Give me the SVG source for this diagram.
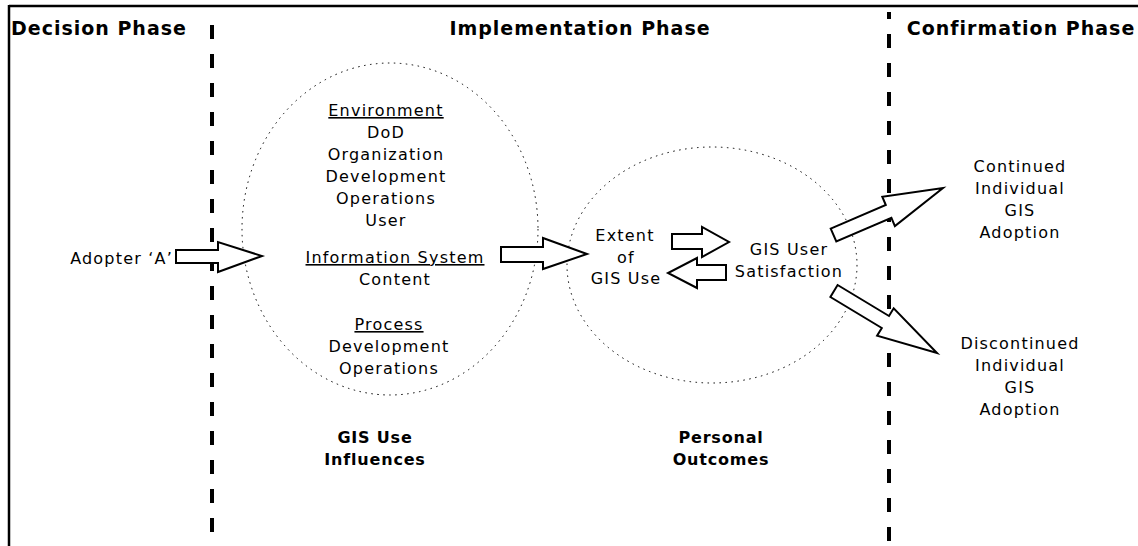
<svg xmlns="http://www.w3.org/2000/svg" width="1138" height="546" viewBox="0 0 1138 546">
<style>
.hdr{font-family:"DejaVu Sans",sans-serif;font-weight:bold;font-size:19px;letter-spacing:1px;fill:#000}
.lbl{font-family:"DejaVu Sans",sans-serif;font-weight:bold;font-size:16px;letter-spacing:0.8px;fill:#000;text-anchor:middle}
.t{font-family:"DejaVu Sans",sans-serif;font-size:16px;letter-spacing:1.2px;fill:#000;text-anchor:middle}
.t.end{text-anchor:end}
.u{text-decoration:underline}
.frame{stroke:#000;stroke-width:2.5;fill:none}
.div{stroke:#000;stroke-width:4;stroke-dasharray:14 15;fill:none}
.ell{fill:none;stroke:#000;stroke-width:1;stroke-dasharray:1.5 4.5}
.arr{fill:#fff;stroke:#000;stroke-width:2;stroke-linejoin:miter}
</style>
<rect width="1138" height="546" fill="#fff"/>
<g id="frame">
<line class="frame" x1="9" y1="6" x2="1138" y2="6"/>
<line class="frame" x1="9" y1="5" x2="9" y2="546"/>
</g>
<g id="dividers">
<line class="div" x1="212" y1="25" x2="212" y2="546"/>
<line class="div" x1="889" y1="12" x2="889" y2="546" stroke-dashoffset="7"/>
</g>
<g id="headers">
<text class="hdr" x="11" y="35">Decision Phase</text>
<text class="hdr" x="580" y="35" text-anchor="middle">Implementation Phase</text>
<text class="hdr" x="1021" y="35" text-anchor="middle">Confirmation Phase</text>
</g>
<g id="adopter">
<text class="t end" x="173" y="264">Adopter ‘A’</text>
</g>
<g id="influences">
<ellipse class="ell" cx="390" cy="229" rx="148" ry="166"/>
<text class="t u" x="386" y="116">Environment</text>
<text class="t" x="386" y="138">DoD</text>
<text class="t" x="386" y="160">Organization</text>
<text class="t" x="386" y="182">Development</text>
<text class="t" x="386" y="204">Operations</text>
<text class="t" x="386" y="226">User</text>
<text class="t u" x="395" y="263">Information System</text>
<text class="t" x="395" y="285">Content</text>
<text class="t u" x="389" y="330">Process</text>
<text class="t" x="389" y="352">Development</text>
<text class="t" x="389" y="374">Operations</text>
<text class="lbl" x="375" y="443">GIS Use</text>
<text class="lbl" x="375" y="465">Influences</text>
</g>
<g id="outcomes">
<ellipse class="ell" cx="712" cy="265" rx="145" ry="118"/>
<text class="t" x="625" y="241">Extent</text>
<text class="t" x="626" y="263">of</text>
<text class="t" x="626" y="284">GIS Use</text>
<text class="t" x="789" y="255">GIS User</text>
<text class="t" x="789" y="277">Satisfaction</text>
<text class="lbl" x="721" y="443">Personal</text>
<text class="lbl" x="721" y="465">Outcomes</text>
</g>
<g id="continued">
<text class="t" x="1020" y="172">Continued</text>
<text class="t" x="1020" y="194">Individual</text>
<text class="t" x="1020" y="216">GIS</text>
<text class="t" x="1020" y="238">Adoption</text>
</g>
<g id="discontinued">
<text class="t" x="1020" y="349">Discontinued</text>
<text class="t" x="1020" y="371">Individual</text>
<text class="t" x="1020" y="393">GIS</text>
<text class="t" x="1020" y="415">Adoption</text>
</g>
<g id="connectors">
<polygon class="arr" points="176,250 218,250 218,242 262,256 218,272 218,263 176,263"/>
<polygon class="arr" points="501,247 543,247 543,238 587,254 543,269 543,262 501,262"/>
<polygon class="arr" points="672,234 702,234 702,227 729,242 702,257 702,249 672,249"/>
<polygon class="arr" points="726,265 697,265 697,258 668,273 697,288 697,280 726,280"/>
<polygon class="arr" points="830.7,228.6 885.8,205 882.3,196.7 943,188 894.9,226.1 891.4,217.8 836.3,241.4"/>
<polygon class="arr" points="837.6,285 889,316 893.7,308.3 937,353 877.1,335.7 881.8,328 830.4,297"/>
</g>
</svg>
